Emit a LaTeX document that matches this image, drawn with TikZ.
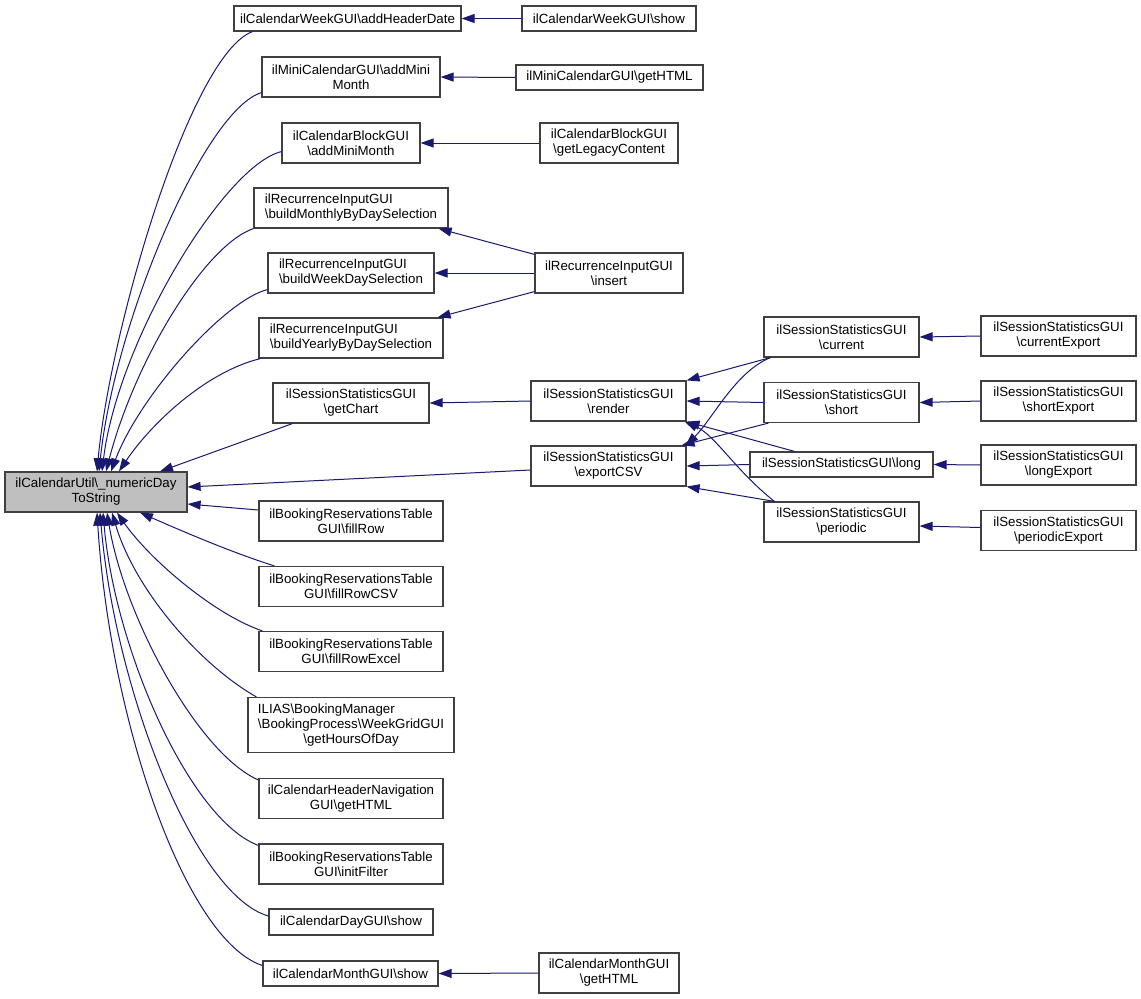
\documentclass[tikz,border=0pt]{standalone}
\usepackage{fontspec}
\setmainfont{Liberation Sans}
\usepackage{calc}
\usetikzlibrary{arrows.meta}
\definecolor{edgeblue}{HTML}{191970}
\definecolor{maingray}{HTML}{BFBFBF}
\definecolor{boxline}{HTML}{404040}
\newcommand\bksl{\textbackslash}
\newcommand\lftline[2]{\makebox[\widthof{#2}][l]{#1}}
\begin{document}
\begin{tikzpicture}[x=1pt,y=-1pt,
  box/.style={draw=boxline, line width=1.2pt, fill=white, inner sep=0pt, align=center,
    font=\fontsize{13.3pt}{15pt}\selectfont},
  edge/.style={draw=edgeblue, line width=1pt, -{Triangle[length=13pt,width=9pt]}}]
\fill[white] (0,0) rectangle (1141,999);
\useasboundingbox (0,0) rectangle (1141,999);

% rank 0
\node[box, fill=maingray, minimum width=182pt, minimum height=40pt] (main) at (96,492) {ilCalendarUtil\bksl\_numericDay\\ToString};

% rank 1
\node[box, minimum width=227pt, minimum height=25pt] (hdr) at (347.5,18.5) {ilCalendarWeekGUI\bksl addHeaderDate};
\node[box, minimum width=178pt, minimum height=40pt] (mini) at (351,77) {ilMiniCalendarGUI\bksl addMini\\Month};
\node[box, minimum width=138pt, minimum height=40pt] (block) at (351,143) {ilCalendarBlockGUI\\\bksl addMiniMonth};
\node[box, minimum width=194pt, minimum height=40pt] (monthly) at (351,208) {\lftline{ilRecurrenceInputGUI}{\bksl buildMonthlyByDaySelection}\\\bksl buildMonthlyByDaySelection};
\node[box, minimum width=166pt, minimum height=40pt] (weekday) at (351,273) {\lftline{ilRecurrenceInputGUI}{\bksl buildWeekDaySelection}\\\bksl buildWeekDaySelection};
\node[box, minimum width=184pt, minimum height=40pt] (yearly) at (351,338) {\lftline{ilRecurrenceInputGUI}{\bksl buildYearlyByDaySelection}\\\bksl buildYearlyByDaySelection};
\node[box, minimum width=156pt, minimum height=40pt] (getchart) at (351,403) {ilSessionStatisticsGUI\\\bksl getChart};
\node[box, minimum width=184pt, minimum height=40pt] (fillrow) at (351,521) {ilBookingReservationsTable\\GUI\bksl fillRow};
\node[box, minimum width=184pt, minimum height=40pt] (fillrowcsv) at (351,586.5) {ilBookingReservationsTable\\GUI\bksl fillRowCSV};
\node[box, minimum width=184pt, minimum height=40pt] (fillrowexcel) at (351,651.5) {ilBookingReservationsTable\\GUI\bksl fillRowExcel};
\node[box, minimum width=206pt, minimum height=55pt] (ilias) at (351,725) {\lftline{ILIAS\bksl BookingManager}{\bksl BookingProcess\bksl WeekGridGUI}\\\bksl BookingProcess\bksl WeekGridGUI\\\bksl getHoursOfDay};
\node[box, minimum width=184pt, minimum height=40pt] (headernav) at (351,798.5) {ilCalendarHeaderNavigation\\GUI\bksl getHTML};
\node[box, minimum width=184pt, minimum height=40pt] (initfilter) at (351,864) {ilBookingReservationsTable\\GUI\bksl initFilter};
\node[box, minimum width=164pt, minimum height=26pt] (dayshow) at (351,922) {ilCalendarDayGUI\bksl show};
\node[box, minimum width=175pt, minimum height=25pt] (monthshow) at (350.5,973.5) {ilCalendarMonthGUI\bksl show};

% rank 2
\node[box, minimum width=174pt, minimum height=25pt] (weekshow) at (609,18.5) {ilCalendarWeekGUI\bksl show};
\node[box, minimum width=187pt, minimum height=25pt] (minihtml) at (609.5,77.5) {ilMiniCalendarGUI\bksl getHTML};
\node[box, minimum width=138pt, minimum height=40pt] (legacy) at (609,143) {ilCalendarBlockGUI\\\bksl getLegacyContent};
\node[box, minimum width=148pt, minimum height=40pt] (insert) at (609,273) {ilRecurrenceInputGUI\\\bksl insert};
\node[box, minimum width=155pt, minimum height=40pt] (render) at (608.5,401) {ilSessionStatisticsGUI\\\bksl render};
\node[box, minimum width=155pt, minimum height=40pt] (exportcsv) at (608.5,466) {ilSessionStatisticsGUI\\\bksl exportCSV};
\node[box, minimum width=140pt, minimum height=40pt] (monthhtml) at (609,973) {ilCalendarMonthGUI\\\bksl getHTML};

% rank 3
\node[box, minimum width=155pt, minimum height=40pt] (current) at (841.5,337) {ilSessionStatisticsGUI\\\bksl current};
\node[box, minimum width=155pt, minimum height=40pt] (short) at (841.5,402.5) {ilSessionStatisticsGUI\\\bksl short};
\node[box, minimum width=183pt, minimum height=25pt] (long) at (841.5,464.5) {ilSessionStatisticsGUI\bksl long};
\node[box, minimum width=155pt, minimum height=40pt] (periodic) at (841.5,522) {ilSessionStatisticsGUI\\\bksl periodic};

% rank 4
\node[box, minimum width=155pt, minimum height=40pt] (currentexp) at (1058.5,336) {ilSessionStatisticsGUI\\\bksl currentExport};
\node[box, minimum width=155pt, minimum height=40pt] (shortexp) at (1058.5,401) {ilSessionStatisticsGUI\\\bksl shortExport};
\node[box, minimum width=155pt, minimum height=40pt] (longexp) at (1058.5,465) {ilSessionStatisticsGUI\\\bksl longExport};
\node[box, minimum width=155pt, minimum height=40pt] (periodicexp) at (1058.5,530.5) {ilSessionStatisticsGUI\\\bksl periodicExport};

% edges into main (top)
\draw[edge] ([xshift=19pt]hdr.south west) .. controls (190,55) and (110,330) .. ([xshift=1pt]main.north);
\draw[edge] ([yshift=5pt]mini.south west) .. controls (205,110) and (115,320) .. ([xshift=3pt]main.north);
\draw[edge] ([yshift=12pt]block.south west) .. controls (225,165) and (118,340) .. ([xshift=6pt]main.north);
\draw[edge] (monthly.south west) .. controls (205,245) and (135,360) .. ([xshift=10pt]main.north);
\draw[edge] ([yshift=4pt]weekday.south west) .. controls (225,300) and (140,395) .. ([xshift=15pt]main.north);
\draw[edge] ([xshift=2pt]yearly.south west) .. controls (205,372) and (150,425) .. ([xshift=23pt]main.north);
\draw[edge] ([xshift=20pt]getchart.south west) -- ([xshift=64pt]main.north);
% edges into main (right)
\draw[edge] ([yshift=-4pt]exportcsv.west) -- ([yshift=5pt]main.east);
\draw[edge] ([yshift=11pt]fillrow.west) -- ([yshift=-12pt]main.east);
% edges into main (bottom)
\draw[edge] ([xshift=16pt]fillrowcsv.north west) .. controls (230,552) and (175,528) .. ([xshift=44pt]main.south);
\draw[edge] ([xshift=4pt]fillrowexcel.north west) .. controls (215,615) and (150,560) .. ([xshift=21pt]main.south);
\draw[edge] ([xshift=9pt]ilias.north west) .. controls (200,665) and (135,590) .. ([xshift=16pt]main.south);
\draw[edge] ([yshift=-2pt]headernav.north west) .. controls (200,755) and (125,620) .. ([xshift=11pt]main.south);
\draw[edge] ([yshift=-2pt]initfilter.north west) .. controls (190,820) and (115,650) .. ([xshift=7pt]main.south);
\draw[edge] ([yshift=6pt]dayshow.west) .. controls (195,895) and (115,690) .. ([xshift=4pt]main.south);
\draw[edge] ([yshift=8pt]monthshow.west) .. controls (185,940) and (110,720) .. ([xshift=1pt]main.south);

% rank 2 -> rank 1
\draw[edge] (weekshow.west) -- (hdr.east);
\draw[edge] (minihtml.west) -- (mini.east);
\draw[edge] (legacy.west) -- (block.east);
\draw[edge] ([yshift=-2pt]insert.north west) -- ([xshift=-10pt]monthly.south east);
\draw[edge] (insert.west) -- (weekday.east);
\draw[edge] ([yshift=2pt]insert.south west) -- ([xshift=-6pt]yearly.north east);
\draw[edge] (render.west) -- (getchart.east);
\draw[edge] (monthhtml.west) -- (monthshow.east);

% rank 3 -> rank 2
\draw[edge] ([xshift=7pt]current.south west) -- (render.north east);
\draw[edge] (short.west) -- (render.east);
\draw[edge] ([xshift=45pt]long.north west) -- (render.south east);
\draw[edge] ([xshift=11pt]periodic.north west) .. controls (735,470) and (715,435) .. ([xshift=-2pt]render.south east);
\draw[edge] ([xshift=7pt]current.south west) .. controls (735,372) and (712,420) .. ([xshift=-1pt]exportcsv.north east);
\draw[edge] ([xshift=5pt]short.south west) -- ([xshift=-5pt]exportcsv.north east);
\draw[edge] (long.west) -- (exportcsv.east);
\draw[edge] ([xshift=11pt]periodic.north west) -- (exportcsv.south east);

% rank 4 -> rank 3
\draw[edge] (currentexp.west) -- (current.east);
\draw[edge] (shortexp.west) -- (short.east);
\draw[edge] (longexp.west) -- (long.east);
\draw[edge] ([yshift=3pt]periodicexp.west) -- ([yshift=-4pt]periodic.east);
\end{tikzpicture}
\end{document}
